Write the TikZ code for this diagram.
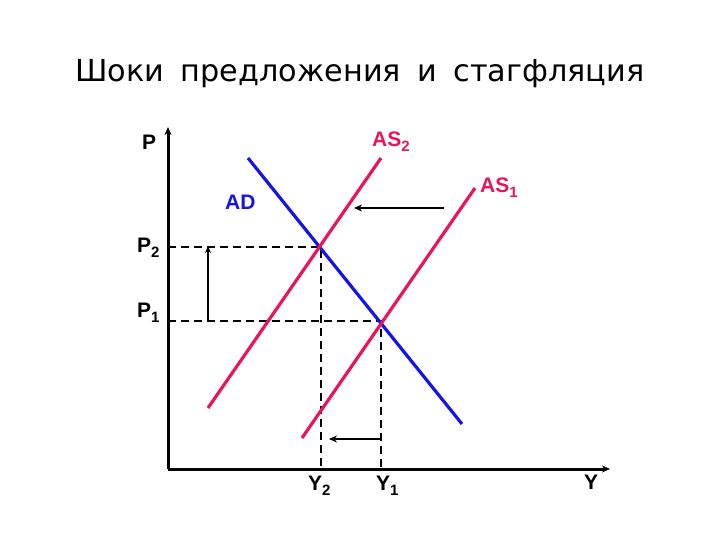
\documentclass[tikz,border=0pt]{standalone}
\usepackage{fontspec}
\setmainfont{Liberation Sans}
\newfontfamily\titlefont[WordSpace={1.7}]{DejaVu Sans}
\usetikzlibrary{arrows.meta}
\definecolor{asred}{RGB}{232,20,92}
\definecolor{adblue}{RGB}{20,20,230}
\newcommand{\lsub}[1]{\raisebox{-5pt}{\fontsize{15}{16}\selectfont #1}}
\tikzset{
  curve/.style={line width=3.2pt},
  axis/.style={line width=3pt,-{Stealth[length=8pt,width=7pt]}},
  guide/.style={line width=2pt,dash pattern=on 8pt off 5pt},
  shiftarrow/.style={line width=2.6pt,-{Stealth[length=8pt,width=7pt]}},
  shiftthin/.style={line width=1.6pt,-{Stealth[length=7pt,width=6pt]}},
  lbl/.style={font=\bfseries\fontsize{21}{22}\selectfont,inner sep=0pt,anchor=base west},
}
\begin{document}
\begin{tikzpicture}[x=1pt,y=-1pt]
\useasboundingbox (0,0) rectangle (720,540);
\node[font=\titlefont\fontsize{30.3}{32}\selectfont] (title) at (360,74) {Шоки предложения и стагфляция};
% axes
\coordinate (O) at (168,469);
\coordinate (ytop) at (168,127);
\coordinate (xend) at (610,469);
\draw[axis] (O) -- (ytop);
\draw[axis] (O) -- (xend);
% equilibrium points
\coordinate (E2) at (321,247);
\coordinate (E1) at (381,321);
\coordinate (P2a) at (168,247);
\coordinate (P1a) at (168,321);
\coordinate (Y2a) at (321,469);
\coordinate (Y1a) at (381,469);
% guides
\draw[guide] (P2a) -- (E2) -- (Y2a);
\draw[guide] (P1a) -- (E1) -- (Y1a);
% curves
\coordinate (ADs) at (248,158);
\coordinate (ADe) at (462,424);
\coordinate (AS2s) at (208,408);
\coordinate (AS2e) at (381,158);
\coordinate (AS1s) at (302,438);
\coordinate (AS1e) at (475,188);
\draw[curve,adblue] (ADs) -- (ADe);
\draw[curve,asred] (AS2s) -- (AS2e);
\draw[curve,asred] (AS1s) -- (AS1e);
% shift arrows
\coordinate (sa1) at (444,208);
\coordinate (sa2) at (354,208);
\draw[shiftarrow] (sa1) -- (sa2);
\coordinate (pa1) at (208,321);
\coordinate (pa2) at (208,246);
\draw[shiftthin] (pa1) -- (pa2);
\coordinate (ya1) at (381,439);
\coordinate (ya2) at (329,439);
\draw[shiftarrow] (ya1) -- (ya2);
% labels
\node[lbl] (P) at (142,150) {P};
\node[lbl] (P2) at (137,252) {P\lsub{2}};
\node[lbl] (P1) at (137,317) {P\lsub{1}};
\node[lbl] (Y2) at (308,490) {Y\lsub{2}};
\node[lbl] (Y1) at (376,490) {Y\lsub{1}};
\node[lbl] (Y) at (584,489) {Y};
\node[lbl,adblue] (AD) at (225,210) {AD};
\node[lbl,asred] (AS2) at (372,147) {AS\lsub{2}};
\node[lbl,asred] (AS1) at (480,193) {AS\lsub{1}};
\end{tikzpicture}
\end{document}
